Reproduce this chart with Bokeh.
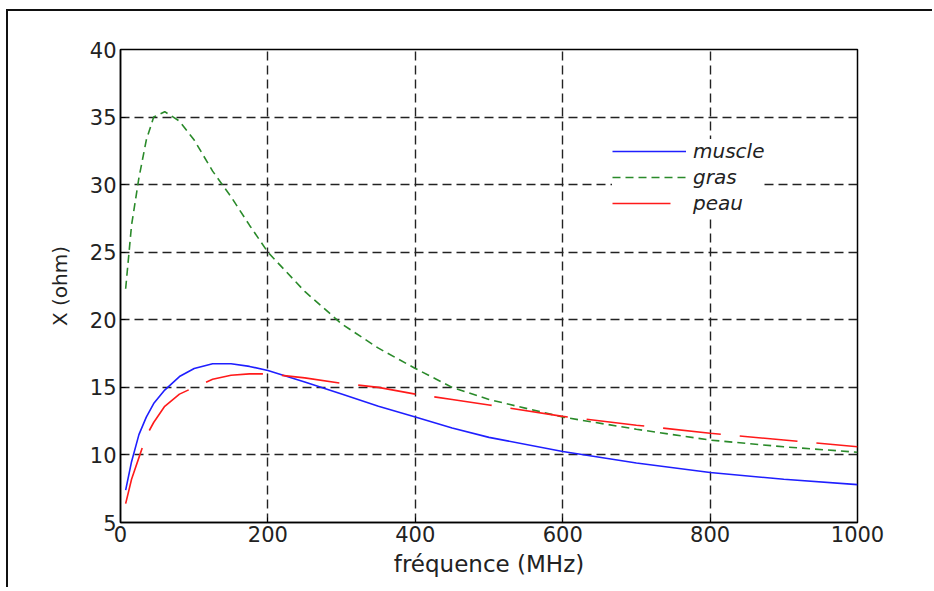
from bokeh.plotting import figure
from bokeh.models import Legend, LegendItem, FixedTicker, Range1d
from bokeh.embed import file_html
from bokeh.resources import INLINE

freq = [7, 15, 25, 35, 45, 60, 80, 100, 125, 150, 175, 200, 250, 300, 350,
        400, 450, 500, 600, 700, 800, 900, 1000]
muscle = [7.4, 9.5, 11.5, 12.8, 13.8, 14.8, 15.8, 16.4, 16.75, 16.75, 16.55,
          16.25, 15.4, 14.5, 13.6, 12.8, 12.0, 11.3, 10.25, 9.4, 8.7, 8.2, 7.8]
gras = [22.3, 27.0, 30.5, 33.3, 35.0, 35.4, 34.7, 33.3, 31.0, 29.1, 27.0,
        25.0, 22.1, 19.7, 17.9, 16.4, 15.0, 14.1, 12.8, 11.9, 11.1, 10.6, 10.2]
peau = [6.4, 8.2, 9.8, 11.4, 12.4, 13.6, 14.5, 15.0, 15.6, 15.9, 16.0, 16.0,
        15.7, 15.3, 15.0, 14.5, 14.1, 13.7, 12.85, 12.2, 11.6, 11.1, 10.6]
xticks = [0, 200, 400, 600, 800, 1000]
yticks = [5, 10, 15, 20, 25, 30, 35, 40]

FONT = "DejaVu Sans"
INK = "#222222"

p = figure(width=926, height=578, output_backend="svg", toolbar_location=None,
           x_range=Range1d(0, 1000), y_range=Range1d(5, 40),
           min_border_left=112, min_border_right=77, min_border_top=38,
           min_border_bottom=67)
p.styles = {"border-left": "2px solid #111111", "border-top": "2px solid #111111",
            "margin-top": "9px", "margin-left": "6px"}
p.outline_line_color = "black"
p.outline_line_width = 1.5

for ax in (p.xaxis[0], p.yaxis[0]):
    ax.major_tick_in = 5
    ax.major_tick_out = 0
    ax.minor_tick_in = 0
    ax.minor_tick_out = 0
    ax.axis_line_color = "black"
    ax.axis_line_width = 1.5
    ax.major_label_text_font = FONT
    ax.major_label_text_font_size = "21px"
    ax.major_label_text_color = INK
    ax.axis_label_text_font = FONT
    ax.axis_label_text_font_style = "normal"
    ax.axis_label_text_color = INK

p.xaxis[0].ticker = FixedTicker(ticks=xticks)
p.yaxis[0].ticker = FixedTicker(ticks=yticks)
p.xaxis[0].axis_label = "fréquence (MHz)"
p.yaxis[0].axis_label = "X (ohm)"
p.xaxis[0].axis_label_text_font_size = "23px"
p.yaxis[0].axis_label_text_font_size = "20px"
p.xaxis[0].major_label_standoff = 3
p.yaxis[0].major_label_standoff = 4
p.xaxis[0].axis_label_standoff = 6
p.yaxis[0].axis_label_standoff = 15

p.xgrid.ticker = FixedTicker(ticks=xticks)
p.ygrid.ticker = FixedTicker(ticks=yticks)
for g in (p.xgrid[0], p.ygrid[0]):
    g.grid_line_color = INK
    g.grid_line_width = 1.4
    g.grid_line_dash = "9 5"

r1 = p.line(freq, muscle, line_color="#1f1fff", line_width=1.6)
r2 = p.line(freq, gras, line_color="#2a8a2a", line_width=1.6, line_dash="8 5")
r3 = p.line(freq, peau, line_color="#ff1a1a", line_width=1.6, line_dash="58 19")

legend = Legend(items=[LegendItem(label="muscle", renderers=[r1]),
                       LegendItem(label="gras", renderers=[r2]),
                       LegendItem(label="peau", renderers=[r3])],
                location=(492, 307), padding=8, spacing=2, label_height=20,
                glyph_height=20, glyph_width=74, label_standoff=7,
                border_line_color=None, background_fill_color="white",
                background_fill_alpha=1.0, label_text_font=FONT,
                label_text_font_style="italic", label_text_font_size="20px",
                label_text_color=INK)
p.add_layout(legend, "center")

open("out.html", "w").write(file_html(p, INLINE))
